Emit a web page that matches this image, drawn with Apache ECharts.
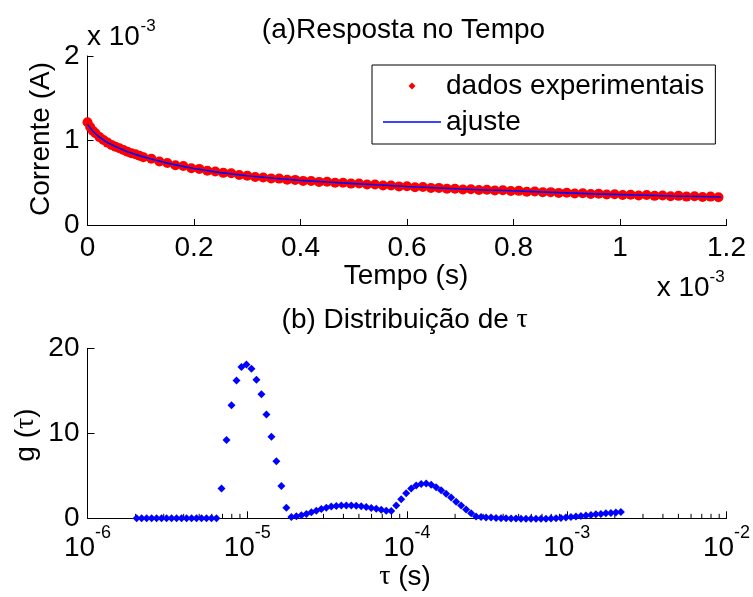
<!DOCTYPE html>
<html><head><meta charset="utf-8">
<script src="https://cdn.jsdelivr.net/npm/echarts@6/dist/echarts.min.js"></script>
<style>html,body{margin:0;padding:0;background:#fff}#c{width:753px;height:597px}</style>
</head><body><div id="c"></div>
<script>
// ---- (a) time response: time in ms (x 10^-3 s), current in mA (x 10^-3 A)
const timeMs = [0,0.005,0.01,0.015,0.0225,0.03,0.0375,0.045,0.0525,0.06,0.0675,0.075,0.0825,0.09,0.0975,0.105,0.12,0.135,0.15,0.165,0.18,0.195,0.21,0.225,0.24,0.255,0.27,0.285,
  0.3,0.315,0.33,0.345,0.36,0.375,0.39,0.405,0.42,0.435,0.45,0.465,0.48,0.495,0.51,0.525,0.54,0.555,0.57,0.585,
  0.6,0.615,0.63,0.645,0.66,0.675,0.69,0.705,0.72,0.735,0.75,0.765,0.78,0.795,0.81,0.825,0.84,0.855,0.87,0.885,
  0.9,0.915,0.93,0.945,0.96,0.975,0.99,1.005,1.02,1.035,1.05,1.065,1.08,1.095,1.11,1.125,1.14,1.155,1.17,1.185];
const currentExpMA = [1.215,1.16,1.115,1.085,1.04,1.005,0.975,0.948,0.925,0.908,0.888,0.866,0.85,0.838,0.82,0.802,0.784,0.752,0.733,0.707,0.698,0.672,0.664,0.642,0.634,0.617,0.612,0.592,
  0.584,0.567,0.563,0.55,0.549,0.535,0.534,0.522,0.521,0.51,0.511,0.5,0.501,0.49,0.491,0.48,0.48,0.468,0.468,0.457,
  0.458,0.447,0.449,0.438,0.439,0.429,0.43,0.421,0.424,0.415,0.418,0.409,0.412,0.402,0.404,0.394,0.396,0.387,0.389,0.38,
  0.382,0.372,0.375,0.366,0.369,0.36,0.364,0.355,0.359,0.35,0.354,0.345,0.349,0.341,0.345,0.336,0.34,0.332,0.336,0.329];
const fitTimeMs = [0,0.01,0.02,0.035,0.05,0.075,0.1,0.125,0.15,0.175,0.2,0.25,0.3,0.35,0.4,0.45,0.5,0.55,0.6,0.65,
  0.7,0.75,0.8,0.85,0.9,0.95,1.0,1.05,1.1,1.15,1.19];
const fitCurrentMA = [1.19,1.11,1.05,0.985,0.935,0.868,0.815,0.772,0.732,0.7,0.668,0.62,0.582,0.553,0.528,0.508,0.49,0.473,0.455,0.44,
  0.426,0.415,0.405,0.392,0.38,0.368,0.36,0.352,0.344,0.337,0.331];

// ---- (b) distribution of tau
const tauS = [2.030e-6,2.182e-6,2.344e-6,2.519e-6,2.707e-6,2.909e-6,3.126e-6,3.359e-6,3.610e-6,3.879e-6,
  4.169e-6,4.480e-6,4.814e-6,5.173e-6,5.559e-6,5.974e-6,6.420e-6,6.899e-6,7.413e-6,7.966e-6,
  8.561e-6,9.200e-6,9.886e-6,1.062e-5,1.142e-5,1.227e-5,1.318e-5,1.417e-5,1.522e-5,1.636e-5,
  1.758e-5,1.889e-5,2.030e-5,2.182e-5,2.344e-5,2.519e-5,2.707e-5,2.909e-5,3.126e-5,3.359e-5,
  3.610e-5,3.879e-5,4.169e-5,4.480e-5,4.814e-5,5.173e-5,5.559e-5,5.974e-5,6.420e-5,6.899e-5,
  7.413e-5,7.966e-5,8.561e-5,9.200e-5,9.886e-5,1.062e-4,1.142e-4,1.227e-4,1.318e-4,1.417e-4,
  1.522e-4,1.636e-4,1.758e-4,1.889e-4,2.030e-4,2.182e-4,2.344e-4,2.519e-4,2.707e-4,2.909e-4,
  3.126e-4,3.359e-4,3.610e-4,3.879e-4,4.169e-4,4.480e-4,4.814e-4,5.173e-4,5.559e-4,5.974e-4,
  6.420e-4,6.899e-4,7.413e-4,7.966e-4,8.561e-4,9.200e-4,9.886e-4,1.062e-3,1.142e-3,1.227e-3,
  1.318e-3,1.417e-3,1.522e-3,1.636e-3,1.758e-3,1.889e-3,2.030e-3,2.182e-3];
const gTau = [0,0,0,0,0,0,0,0,0,0,
  0,0,0,0,0,0,0,3.5,9.2,13.3,
  16.2,17.8,18.1,17.6,16.3,14.6,12.2,9.6,6.7,3.8,
  1.25,0.15,0.25,0.35,0.5,0.7,0.9,1.1,1.25,1.38,
  1.45,1.5,1.5,1.5,1.47,1.42,1.33,1.22,1.12,1.0,
  0.9,0.85,1.5,2.25,2.95,3.5,3.85,4.05,4.1,3.95,
  3.65,3.3,2.9,2.45,1.95,1.5,1.05,0.6,0.2,0.15,
  0.1,0.08,0.05,0.02,0,-0.02,-0.03,-0.05,-0.05,-0.05,
  -0.05,-0.05,-0.04,-0.02,0,0.03,0.08,0.15,0.2,0.27,
  0.33,0.4,0.47,0.52,0.58,0.63,0.68,0.73];
const minorTickTau = [2e-6,3e-6,4e-6,5e-6,6e-6,7e-6,8e-6,9e-6,
  2e-5,3e-5,4e-5,5e-5,6e-5,7e-5,8e-5,9e-5,
  2e-4,3e-4,4e-4,5e-4,6e-4,7e-4,8e-4,9e-4,
  2e-3,3e-3,4e-3,5e-3,6e-3,7e-3,8e-3,9e-3];

const FF = "'Liberation Sans', Arial, sans-serif";
const SERIF = "'Liberation Serif', 'DejaVu Serif', serif";
const FS = 28;
const axisCommon = {
  axisLine: {show: true, lineStyle: {color: '#000', width: 1}},
  axisTick: {show: true, inside: true, length: 6, lineStyle: {color: '#000', width: 1}},
  splitLine: {show: false},
  axisLabel: {color: '#000', fontSize: FS, fontFamily: FF}
};
function txt(x, y, text, extra, rot) {
  const el = {type: 'text', x: x, y: y, silent: true,
    style: Object.assign({text: text, fill: '#000', fontSize: FS, fontFamily: FF, align: 'center', verticalAlign: 'middle'}, extra || {})};
  if (rot) el.rotation = rot;
  return el;
}

const chart = echarts.init(document.getElementById('c'), null, {renderer: 'canvas'});
chart.setOption({
  animation: false,
  backgroundColor: '#fff',
  grid: [
    {left: 87.5, top: 56, width: 639, height: 169, containLabel: false, outerBoundsMode: 'none'},
    {left: 87.5, top: 348.3, width: 639, height: 170, containLabel: false, outerBoundsMode: 'none'}
  ],
  xAxis: [
    Object.assign({}, axisCommon, {gridIndex: 0, type: 'value', min: 0, max: 1.2, interval: 0.2,
      axisLabel: Object.assign({}, axisCommon.axisLabel, {margin: 9})}),
    Object.assign({}, axisCommon, {gridIndex: 1, type: 'log', logBase: 10, min: 1e-6, max: 1e-2,
      axisTick: {show: true, inside: true, length: 7, lineStyle: {color: '#000', width: 1}},
      minorTick: {show: false},
      axisLabel: {color: '#000', margin: 6,
        formatter: function (v) { return '{b|10}{s|' + Math.round(Math.log10(v)) + '}'; },
        rich: {
          b: {fontSize: FS, fontFamily: FF, color: '#000', lineHeight: 48, verticalAlign: 'middle'},
          s: {fontSize: 18, fontFamily: FF, color: '#000', lineHeight: 18, verticalAlign: 'top'}
        }}})
  ],
  yAxis: [
    Object.assign({}, axisCommon, {gridIndex: 0, type: 'value', min: 0, max: 2, interval: 1,
      axisLabel: Object.assign({}, axisCommon.axisLabel, {margin: 8})}),
    Object.assign({}, axisCommon, {gridIndex: 1, type: 'value', min: 0, max: 20, interval: 10,
      axisTick: {show: true, inside: true, length: 7, lineStyle: {color: '#000', width: 1}},
      axisLabel: Object.assign({}, axisCommon.axisLabel, {margin: 8})})
  ],
  legend: {
    orient: 'vertical', left: 372, top: 65, padding: [6, 11, 7, 11],
    backgroundColor: '#fff', borderColor: '#000', borderWidth: 1, borderRadius: 0,
    itemWidth: 58, itemHeight: 7, itemGap: 6, symbolKeepAspect: true,
    textStyle: {color: '#000', fontSize: FS, fontFamily: FF, lineHeight: 30},
    data: [
      {name: 'dados experimentais', icon: 'path://M1,0L2,1L1,2L0,1Z', itemStyle: {color: '#ff0000', opacity: 1}},
      {name: 'ajuste', icon: 'path://M0,0L58,0L58,1.6L0,1.6Z', itemStyle: {color: '#0000ff', opacity: 1}}
    ],
    selectedMode: false
  },
  graphic: [
    txt(403.5, 30, '(a)Resposta no Tempo'),
    txt(87, 37, 'x 10', {align: 'left'}),
    txt(140.5, 26, '-3', {align: 'left', fontSize: 17}),
    txt(656.7, 288, 'x 10', {align: 'left'}),
    txt(709.5, 277.5, '-3', {align: 'left', fontSize: 17}),
    txt(41, 139, 'Corrente (A)', null, Math.PI / 2),
    txt(406, 276, 'Tempo (s)'),
    txt(404.7, 320, '(b) Distribuição de {t|τ}', {rich: {t: {fontFamily: SERIF, fontSize: FS, color: '#000'}}}),
    txt(26, 435, 'g ({t|τ})', {rich: {t: {fontFamily: SERIF, fontSize: FS, color: '#000'}}}, Math.PI / 2),
    txt(405, 577, '{t|τ} (s)', {rich: {t: {fontFamily: SERIF, fontSize: FS, color: '#000'}}})
  ],
  series: [
    {name: 'dados experimentais', type: 'scatter', xAxisIndex: 0, yAxisIndex: 0, clip: false,
      symbol: 'circle', symbolSize: 10, itemStyle: {color: '#ff0000', opacity: 1},
      data: timeMs.map((t, i) => [t, currentExpMA[i]]), z: 2, silent: true},
    {name: 'ajuste', type: 'line', xAxisIndex: 0, yAxisIndex: 0, symbol: 'none', showSymbol: false,
      lineStyle: {color: '#0000ff', width: 1.6}, itemStyle: {color: '#0000ff'},
      data: fitTimeMs.map((t, i) => [t, fitCurrentMA[i]]), z: 3, silent: true},
    {name: 'g', type: 'scatter', xAxisIndex: 1, yAxisIndex: 1, clip: false,
      symbol: 'diamond', symbolSize: 8, itemStyle: {color: '#0000ff', opacity: 1},
      data: tauS.map((t, i) => [t, gTau[i]]), z: 3, silent: true},
    {name: 'minorTicks', type: 'custom', xAxisIndex: 1, yAxisIndex: 1, silent: true, clip: false, z: 1,
      data: minorTickTau.map(v => [v, 0]),
      renderItem: function (params, api) {
        const p = api.coord([api.value(0), 0]);
        return {type: 'line', shape: {x1: p[0], y1: p[1], x2: p[0], y2: p[1] - 4.5},
          style: {stroke: '#000', lineWidth: 1}};
      }}
  ]
});
</script></body></html>
